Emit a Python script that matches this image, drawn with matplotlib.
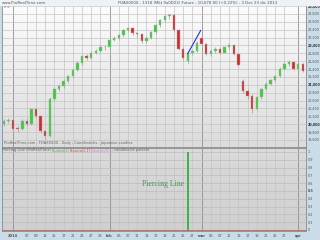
import numpy as np
import pandas as pd
import matplotlib
matplotlib.use("Agg")
import matplotlib.pyplot as plt
from matplotlib.colors import LinearSegmentedColormap

# daily candles
opens = [20000, 20080, 20100, 19900, 19880, 20080, 20000, 20380, 20210, 19820,
         19700, 20640, 20900, 20960, 21100, 21220, 21380, 21560, 21720, 21690,
         21820, 21870, 21970, 21950, 22150, 22200, 22260, 22380, 22440, 22310,
         22280, 22100, 22200, 22330, 22510, 22640, 22740, 22770, 22380, 21920,
         21600, 21820, 21850, 22180, 22030, 21790, 21870, 21920, 21820, 21950,
         22000, 21790, 21100, 20850, 20720, 20380, 20690, 20900, 21030, 21130,
         21230, 21410, 21540, 21590, 21410, 21540]
highs = [20120, 20160, 20130, 19950, 20120, 20150, 20420, 20400, 20240, 19860,
         20680, 20950, 21020, 21140, 21260, 21420, 21600, 21760, 21780, 21860,
         21920, 22000, 22020, 22180, 22240, 22290, 22420, 22480, 22460, 22340,
         22300, 22230, 22360, 22540, 22680, 22780, 22830, 22800, 22420, 21960,
         21760, 21880, 22120, 22200, 22060, 21900, 21960, 21950, 21980, 22060,
         22020, 21820, 21150, 20900, 20760, 20720, 20930, 21060, 21160, 21260,
         21440, 21570, 21620, 21610, 21570, 21560]
lows = [19960, 20020, 19780, 19800, 19860, 19950, 19980, 20150, 19780, 19620,
        19680, 20600, 20850, 20920, 21050, 21180, 21350, 21500, 21620, 21650,
        21780, 21800, 21880, 21920, 22100, 22150, 22220, 22330, 22260, 22220,
        22060, 22050, 22160, 22300, 22480, 22600, 22680, 22340, 21880, 21620,
        21560, 21760, 21830, 21980, 21760, 21740, 21820, 21780, 21800, 21900,
        21760, 21480, 20800, 20650, 20290, 20360, 20650, 20860, 20990, 21080,
        21200, 21380, 21480, 21370, 21380, 21330]
closes = [20080, 20100, 19870, 19870, 20080, 20000, 20380, 20210, 19820, 19690,
          20640, 20900, 20970, 21100, 21230, 21380, 21560, 21720, 21690, 21820,
          21870, 21970, 21950, 22150, 22200, 22260, 22380, 22440, 22310, 22280,
          22100, 22200, 22330, 22510, 22640, 22740, 22770, 22380, 21920, 21670,
          21820, 21850, 22050, 22030, 21790, 21870, 21920, 21820, 21950, 22000,
          21790, 21510, 20850, 20720, 20380, 20690, 20900, 21030, 21130, 21230,
          21410, 21540, 21590, 21410, 21540, 21360]
piercing = [0] * 40 + [1] + [0] * 25

holidays = ["2014-01-01", "2014-01-31"]
dates = [d for d in pd.bdate_range("2013-12-30", "2014-04-03") if d.strftime("%Y-%m-%d") not in holidays][:len(closes)]

trend_x = [40, 42.8]
trend_y = [21795, 22380]

yticks_up = list(range(19600, 23001, 200))
yticks_lo = [round(v * 0.1, 1) for v in range(11)]

bg = "#c9dce7"
fig = plt.figure(figsize=(3.2, 2.4), dpi=100, facecolor=bg)
W, H = 320.0, 240.0
ax1 = fig.add_axes([2 / W, 1 - 147 / H, 304 / W, 143 / H])
ax2 = fig.add_axes([2 / W, 1 - 231 / H, 304 / W, 83 / H], sharex=ax1)

# header strip
fig.patches.append(plt.Rectangle((0, 1 - 4.5 / H), 1, 4.5 / H, transform=fig.transFigure,
                                 color="#eef2f4", zorder=0))
fig.text(2 / W, 1 - 2.5 / H, "www.ProRealTime.com", fontsize=2.8, color="#555555", va="center")
fig.text(118 / W, 1 - 2.5 / H, "FDAX0000 - 1318 (Mkt 9a0D23) Future - 10,678.00 (+0.22%) - 3 Dec 23 dic 2013",
         fontsize=2.8, color="#555555", va="center")

for ax, top, bot in [(ax1, "#fcfcfc", "#dcdcdc"), (ax2, "#dadada", "#d0d0d0")]:
    grad = np.linspace(0, 1, 100).reshape(-1, 1)
    cm = LinearSegmentedColormap.from_list("g", [top, bot])
    ax.imshow(grad, extent=[0, 1, 0, 1], transform=ax.transAxes, aspect="auto", cmap=cm, zorder=0)
    for s in ax.spines.values():
        s.set_color("#8a8a8a")
        s.set_linewidth(0.6)

x = np.arange(len(closes))

# vertical grid and x labels: month starts, then every other day
tick_pos, tick_lab, month_pos = [], [], []
last_start = 0
for i, d in enumerate(dates):
    new_month = i > 0 and d.month != dates[i - 1].month
    if new_month:
        last_start = i
        month_pos.append(i)
        tick_pos.append(i)
        tick_lab.append(str(d.year) if d.month == 1 else d.strftime("%b").lower())
    elif i - last_start >= 2 and i % 2 == 1 and i + 1 < len(dates) and dates[i + 1].month == d.month:
        tick_pos.append(i)
        tick_lab.append(d.strftime("%d"))

for ax in (ax1, ax2):
    for p in tick_pos:
        c = "#8f8f8f" if p in month_pos else "#c4c4c4"
        ax.axvline(p, color=c, lw=0.6 if p in month_pos else 0.5, zorder=1)

for v in yticks_up:
    ax1.axhline(v, color="#c4c4c4", lw=0.5, zorder=1)
for v in yticks_lo:
    ax2.axhline(v, color="#bcbcbc", lw=0.5, zorder=1)

# candles
for i in x:
    up = closes[i] >= opens[i]
    col = "#3ccc3c" if up else "#d42a2a"
    ax1.vlines(i, lows[i], highs[i], color="#a8a8a8", lw=0.6, zorder=2)
    lo, hi = min(opens[i], closes[i]), max(opens[i], closes[i])
    ax1.bar(i, max(hi - lo, 8), bottom=lo, width=0.55, color=col, edgecolor="#b0b0b0",
            linewidth=0.3, zorder=3)

ax1.plot(trend_x, trend_y, color="#2233ee", lw=0.8, zorder=4)

ax1.set_xlim(-0.4, 65.7)
ax1.set_ylim(19422, 23051)
ax1.yaxis.tick_right()
ax1.set_yticks(yticks_up)
ax1.set_yticklabels([f"{v:,}" for v in yticks_up], fontsize=2.4, color="#555555")
for lab, v in zip(ax1.get_yticklabels(), yticks_up):
    if v % 1000 == 0:
        lab.set_fontweight("bold")
        lab.set_color("#333333")
ax1.tick_params(axis="y", length=0, pad=1.2)
ax1.tick_params(axis="x", length=0, labelbottom=False)
ax1.text(0.005, 0.995, "Prix", transform=ax1.transAxes, fontsize=2.6, color="#777777", va="top")
ax1.text(0.005, 0.012, "ProRealTime.com - FDAX0000 - Daily - Candlesticks - Japanese candles",
         transform=ax1.transAxes, fontsize=2.6, color="#666666", va="bottom")

# lower panel
ax2.bar(x, piercing, width=0.35, color="#46b04f", zorder=3)
ax2.set_ylim(-0.013, 1.051)
ax2.yaxis.tick_right()
ax2.set_yticks(yticks_lo)
ax2.set_yticklabels([f"{v:g}" for v in yticks_lo], fontsize=2.4, color="#555555")
ax2.get_yticklabels()[5].set_fontweight("bold")
ax2.tick_params(axis="y", length=0, pad=1.2)
ax2.set_xticks(tick_pos)
ax2.set_xticklabels(tick_lab, fontsize=2.6, color="#555555")
for lab, p in zip(ax2.get_xticklabels(), tick_pos):
    if p in month_pos:
        lab.set_fontweight("bold")
ax2.tick_params(axis="x", length=0, pad=2)
ax2.axhline(0, color="#a07070", lw=0.6, zorder=2)

ax2.text(39.3, 0.59, "Piercing Line", fontsize=5.6, color="#4a8f55", family="Liberation Serif",
         ha="right", va="center", zorder=4)

parts = [("Piercing Line (ProRealTime) ", "#666666"), ("Bullish(1) ", "#49b04f"),
         ("Bearish(-1) ", "#e04545"), ("Neutral(0.5) ", "#ee77cc"), ("candlestick pattern", "#666666")]
xpos = 2 / W
for txt, c in parts:
    t = fig.text(xpos, 1 - 150.5 / H, txt, fontsize=2.6, color=c, va="center")
    fig.canvas.draw()
    bb = t.get_window_extent()
    xpos += bb.width / fig.bbox.width

fig.savefig("out.png", dpi=100, facecolor=bg)
